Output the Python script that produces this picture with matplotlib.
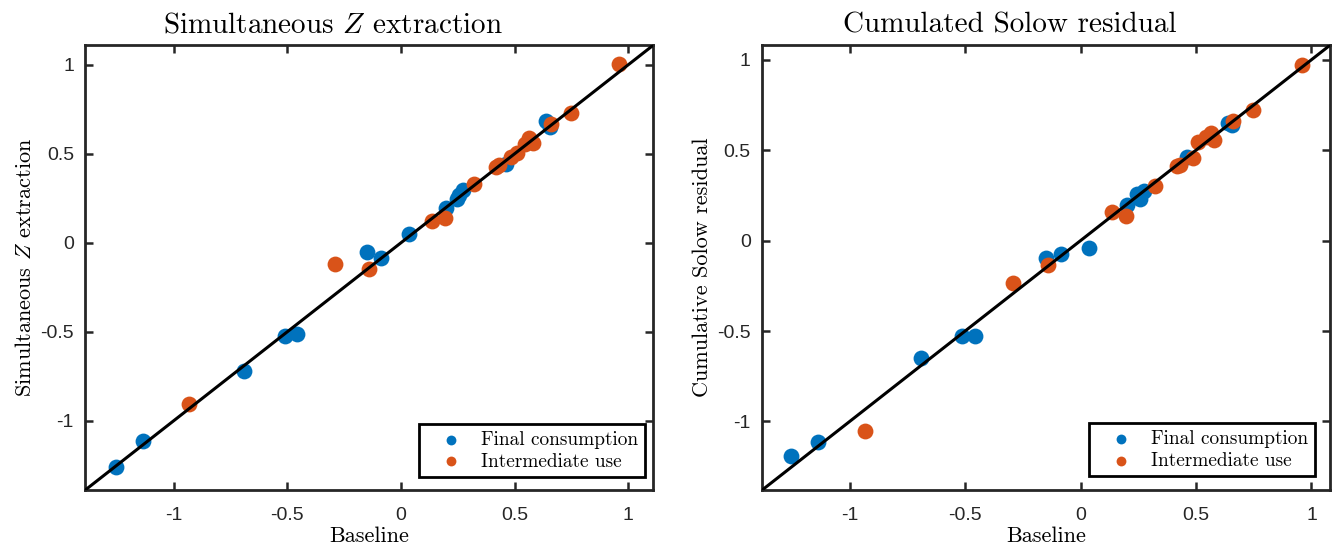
import matplotlib
matplotlib.use('Agg')
import matplotlib.pyplot as plt

# baseline values (x axis), shared by both panels
final_x = [-1.255, -1.136, -0.692, -0.512, -0.459, -0.150, -0.086, 0.036,
           0.200, 0.245, 0.256, 0.273, 0.462, 0.637, 0.656]
inter_x = [-0.932, -0.292, -0.139, 0.137, 0.195, 0.322, 0.417, 0.432,
           0.486, 0.510, 0.545, 0.565, 0.580, 0.662, 0.748, 0.958]

# simultaneous Z extraction
final_z = [-1.257, -1.113, -0.719, -0.525, -0.512, -0.053, -0.084, 0.047,
           0.196, 0.246, 0.270, 0.298, 0.443, 0.683, 0.648]
inter_z = [-0.906, -0.118, -0.150, 0.121, 0.140, 0.331, 0.425, 0.440,
           0.484, 0.503, 0.555, 0.587, 0.559, 0.670, 0.730, 1.006]

# cumulated Solow residual
final_solow = [-1.192, -1.115, -0.649, -0.530, -0.527, -0.097, -0.073, -0.041,
               0.196, 0.257, 0.229, 0.276, 0.463, 0.649, 0.640]
inter_solow = [-1.051, -0.234, -0.137, 0.160, 0.136, 0.304, 0.412, 0.420,
               0.457, 0.547, 0.575, 0.593, 0.556, 0.659, 0.724, 0.972]

ticks = [-1, -0.5, 0, 0.5, 1]
tick_labels = ['-1', '-0.5', '0', '0.5', '1']

BLUE = '#0072BD'
ORANGE = '#D95319'
SERIF = 'cmr10'

plt.rcParams['mathtext.fontset'] = 'cm'
plt.rcParams['font.family'] = 'Liberation Sans'
plt.rcParams['axes.unicode_minus'] = False


def panel(ax, x1, y1, x2, y2, lim, title, ylabel, leg_anchor):
    ax.scatter(x1, y1, s=130, color=BLUE, linewidths=0, label='Final consumption', zorder=2)
    ax.scatter(x2, y2, s=130, color=ORANGE, linewidths=0, label='Intermediate use', zorder=2)
    ax.plot(lim, lim, color='black', lw=2.2, zorder=3)
    ax.set_xlim(lim)
    ax.set_ylim(lim)
    ax.set_xticks(ticks)
    ax.set_xticklabels(tick_labels)
    ax.set_yticks(ticks)
    ax.set_yticklabels(tick_labels)
    ax.tick_params(direction='in', top=True, right=True, length=6, width=1.8,
                   labelsize=14, colors='#262626')
    ax.tick_params(axis='x', pad=12)
    ax.tick_params(axis='y', pad=8)
    for sp in ax.spines.values():
        sp.set_linewidth(2)
        sp.set_color('#262626')
    # the original titles sit a little left of the axes centre
    ax.set_title(title, fontsize=21, family=SERIF, pad=9, x=0.437)
    ax.set_xlabel('Baseline', fontsize=16, family=SERIF, labelpad=2)
    ax.set_ylabel(ylabel, fontsize=16, family=SERIF, labelpad=4)
    leg = ax.legend(loc='lower right', bbox_to_anchor=leg_anchor,
                    prop={'family': SERIF, 'size': 13.9},
                    markerscale=0.62, fancybox=False, framealpha=1,
                    edgecolor='black', borderpad=0.35, handlelength=2.7,
                    handletextpad=0.2, labelspacing=0.2, borderaxespad=0)
    leg.get_frame().set_linewidth(2)


fig = plt.figure(figsize=(13.33, 5.52), dpi=100)
ax1 = fig.add_axes([0.0638, 0.112, 0.4262, 0.806])
ax2 = fig.add_axes([0.5716, 0.112, 0.4261, 0.806])

panel(ax1, final_x, final_z, inter_x, inter_z, [-1.39, 1.11],
      'Simultaneous $Z$ extraction', 'Simultaneous $Z$ extraction', (0.986, 0.029))
panel(ax2, final_x, final_solow, inter_x, inter_solow, [-1.38, 1.08],
      'Cumulated Solow residual', 'Cumulative Solow residual', (0.974, 0.031))

fig.savefig('out.png', dpi=100)
